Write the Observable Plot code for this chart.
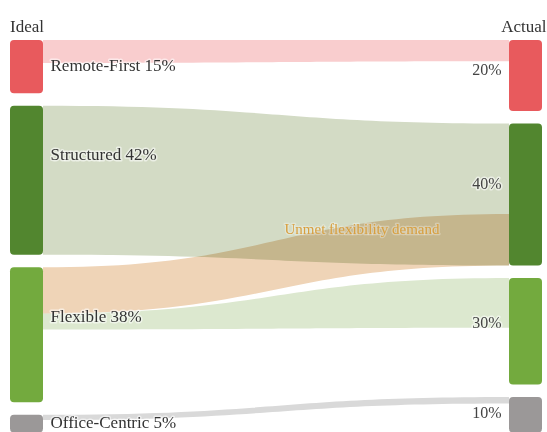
<!DOCTYPE html>
<html>
<head>
<meta charset="utf-8">
<script src="https://cdn.jsdelivr.net/npm/d3@7"></script>
<script src="https://cdn.jsdelivr.net/npm/@observablehq/plot@0.6"></script>
<style>
  html, body { margin: 0; padding: 0; background: #fff; overflow: hidden; }
  #chart { width: 547px; height: 432px; }
</style>
</head>
<body>
<div id="chart"></div>
<script>
// ---- data ----
const categories = ["Remote-First", "Structured", "Flexible", "Office-Centric"];
const ideal = [15, 42, 38, 5];      // Ideal share, %
const actual = [20, 40, 30, 10];    // Actual share, %

// flows (share at the ideal end, share at the actual end)
const linkSource = ["Remote-First", "Structured", "Flexible", "Flexible", "Office-Centric"];
const linkTarget = ["Remote-First", "Structured", "Structured", "Flexible", "Office-Centric"];
const linkIdeal = [6.5, 42, 13, 4.5, 1.5];
const linkActual = [6, 40, 14.5, 14, 1.8];
const linkNames = ["", "", "Unmet flexibility demand", "", ""];

const sideTitles = ["Ideal", "Actual"];

// ---- styles ----
const nodeColors = ["#e85a5d", "#52862f", "#73aa3e", "#9b9898"];
const linkColors = {"Remote-First": "#f9cdce", "Structured": "#d3dbc5", "Flexible": "#dce8cf", "Office-Centric": "#d9d9d9"};
const mismatchColor = "#efd4b7";
const FONT = "Liberation Serif, Times New Roman, serif";

// ---- layout in % units ----
const GAP = 3.52;
const NW = 33 / 532;
function stack(values) {
  let y = 0;
  return values.map((v, i) => {
    const top = y; y += v + GAP;
    return {cat: categories[i], value: v, top, bottom: top + v};
  });
}
const L = stack(ideal);
const R = stack(actual);
const byCat = (arr) => Object.fromEntries(arr.map(d => [d.cat, d]));
const Lc = byCat(L), Rc = byCat(R);

const leftOff = {}, rightTopOff = {}, rightBotOff = {};
const links = linkSource.map((s, i) => {
  const t = linkTarget[i];
  const lo = leftOff[s] || 0; leftOff[s] = lo + linkIdeal[i];
  const lTop = Lc[s].top + lo, lBot = lTop + linkIdeal[i];
  let rTop, rBot;
  if (s === t) {
    const ro = rightTopOff[t] || 0; rightTopOff[t] = ro + linkActual[i];
    rTop = Rc[t].top + ro; rBot = rTop + linkActual[i];
  } else {
    const ro = rightBotOff[t] || 0; rightBotOff[t] = ro + linkActual[i];
    rBot = Rc[t].bottom - ro; rTop = rBot - linkActual[i];
  }
  return {
    i, s, t, name: linkNames[i], rTop, rBot,
    fill: s === t ? linkColors[s] : mismatchColor,
    pts: [{x: NW, y1: lTop, y2: lBot}, {x: 1 - NW, y1: rTop, y2: rBot}]
  };
});

const halo = {stroke: "white", strokeOpacity: 0.55, strokeWidth: 3};

const marks = [
  ...links.map(l => Plot.areaY(l.pts, {
    x: "x", y1: "y1", y2: "y2", curve: "bump-x", fill: l.fill, mixBlendMode: "multiply"
  })),
  Plot.rect(L, {x1: 0, x2: NW, y1: "top", y2: "bottom", fill: "cat", rx: 4}),
  Plot.rect(R, {x1: 1 - NW, x2: 1, y1: "top", y2: "bottom", fill: "cat", rx: 4}),
  Plot.text(L, {
    x: NW, y: d => d.top + Math.min(d.value / 2, 14), dx: 7, dy: -1.5,
    text: d => `${d.cat} ${d.value}%`, textAnchor: "start",
    fontSize: 17, fontFamily: FONT, fill: "#333", ...halo
  }),
  Plot.text(R, {
    x: 1 - NW, y: d => d.top + 0.42 * d.value, dx: -8,
    text: d => `${d.value}%`, textAnchor: "end",
    fontSize: 16, fontFamily: FONT, fill: "#444", ...halo
  }),
  Plot.text(links.filter(l => l.name), {
    x: 1 - NW, y: "rTop", dx: -70, dy: 15, text: "name", textAnchor: "end",
    fontSize: 15, fontFamily: FONT, fill: "#d89f3f", stroke: "white", strokeOpacity: 0.3, strokeWidth: 2.5
  }),
  Plot.text([sideTitles[0]], {
    x: NW / 2, frameAnchor: "top", dy: 19,
    text: d => d, textAnchor: "middle", fontSize: 17, fontFamily: FONT, fill: "#333"
  }),
  Plot.text([sideTitles[1]], {
    x: 1, frameAnchor: "top", dy: 19, dx: 4,
    text: d => d, textAnchor: "end", fontSize: 17, fontFamily: FONT, fill: "#333"
  })
];

const chart = Plot.plot({
  width: 547, height: 432,
  marginTop: 0, marginRight: 0, marginBottom: 0, marginLeft: 0,
  x: {domain: [0, 1], range: [10, 542], axis: null},
  y: {domain: [0, 100 + 3 * GAP], range: [40, 432.5], axis: null},
  color: {domain: categories, range: nodeColors},
  style: {background: "white", fontFamily: FONT},
  marks
});
document.getElementById("chart").appendChild(chart);
</script>
</body>
</html>
